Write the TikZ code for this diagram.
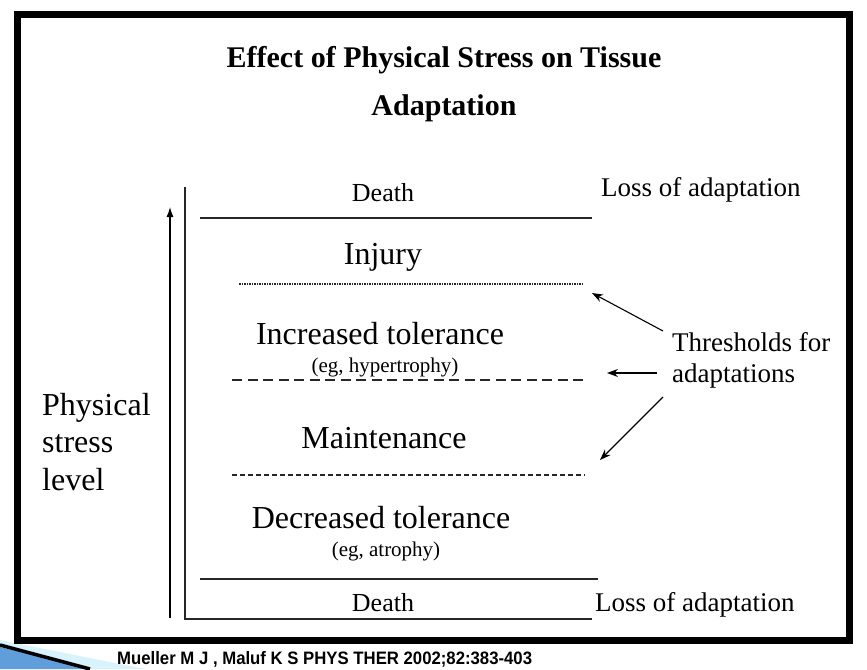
\documentclass[tikz,border=0pt]{standalone}
\usepackage{fontspec}
\setmainfont{Liberation Serif}
\newfontfamily\titlefont{Liberation Serif}
\newfontfamily\citefont[FakeStretch=0.93]{Liberation Sans}
\usetikzlibrary{arrows.meta}
\newcommand{\fsz}[1]{\fontsize{#1}{#1}\selectfont}

\begin{document}
\begin{tikzpicture}[x=1pt, y=-1pt,
    lvl/.style={line width=1.2pt, draw=black!85},
    lbl/.style={anchor=base, inner sep=0pt, font=\fsz{32}},
    side/.style={anchor=base west, inner sep=0pt, font=\fsz{27}},
    pointer/.style={line width=1.1pt, -{Stealth[length=11pt, width=8pt]}}]
    \useasboundingbox (0,0) rectangle (867,669);

    % slide decoration, bottom left
    \fill[cyan!15] (0,640) -- (145,669) -- (0,669) -- cycle;
    \fill[cyan!60!blue!65] (0,647) -- (88,669) -- (0,669) -- cycle;
    \draw[line width=3.5pt] (0,645) -- (90,669);

    % frame
    \draw[line width=7pt] (17.5,14.5) rectangle (849.5,640.5);

    % title
    \node[anchor=base, inner sep=0pt, font=\titlefont\bfseries\fsz{30}] (title) at (444,67) {Effect of Physical Stress on Tissue};
    \node[anchor=base, inner sep=0pt, font=\titlefont\bfseries\fsz{30}] (title2) at (444,115) {Adaptation};

    % axes
    \draw[line width=1.1pt, -{Latex[length=10pt, width=7pt]}] (170,618) -- (170,207);
    \draw[lvl] (185,187) -- (185,619) -- (592,619);

    % level boundaries
    \draw[lvl] (200,218) -- (592,218);
    \draw[lvl, dash pattern=on 1.5pt off 1pt] (239,284) -- (582,284);
    \draw[lvl, dash pattern=on 10pt off 5.5pt] (232,380) -- (584,380);
    \draw[lvl, dash pattern=on 5pt off 3pt] (232,475) -- (585,475);
    \draw[lvl] (200,579) -- (598,579);

    % levels
    \node[lbl, font=\fsz{26}] (death1) at (383,201) {Death};
    \node[lbl] (injury) at (383,264) {Injury};
    \node[lbl] (incr) at (380,344) {Increased tolerance};
    \node[lbl, font=\fsz{21}] (hyper) at (385,372) {(eg, hypertrophy)};
    \node[lbl] (maint) at (384,448) {Maintenance};
    \node[lbl] (decr) at (381,528) {Decreased tolerance};
    \node[lbl, font=\fsz{21}] (atro) at (386,556) {(eg, atrophy)};
    \node[lbl, font=\fsz{26}] (death2) at (383,611) {Death};

    % right side
    \node[side] (loss1) at (601,196) {Loss of adaptation};
    \node[side] (loss2) at (595,611) {Loss of adaptation};
    \node[side] (thr1) at (672,351) {Thresholds for};
    \node[side] (thr2) at (672,382) {adaptations};

    % left label
    \node[side, font=\fsz{32}] (phys) at (42,415) {Physical};
    \node[side, font=\fsz{32}] (stress) at (42,452) {stress};
    \node[side, font=\fsz{32}] (level) at (42,490) {level};

    % threshold arrows
    \coordinate (a1) at (663,331);
    \coordinate (a2) at (657,373);
    \coordinate (a3) at (663,397);
    \coordinate (t1) at (592,293);
    \coordinate (t2) at (607,373);
    \coordinate (t3) at (600,460);
    \draw[pointer] (a1) -- (t1);
    \draw[pointer] (a2) -- (t2);
    \draw[pointer] (a3) -- (t3);

    % reference
    \node[anchor=base west, inner sep=0pt, font=\citefont\bfseries\fsz{18}] (cite) at (117,664) {Mueller M J , Maluf K S PHYS THER 2002;82:383-403};
\end{tikzpicture}
\end{document}
